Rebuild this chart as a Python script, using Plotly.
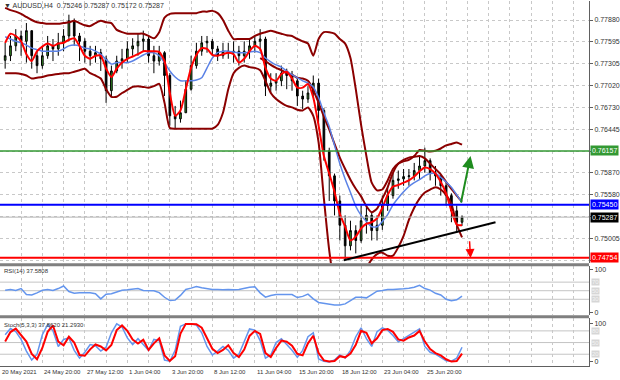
import plotly.graph_objects as go

# ---------------- data (AUDUSD H4, each candle = 2 H4 bars) ----------------
FIRST_OPEN = 0.7735
CLOSE = [0.7741, 0.7754, 0.7767, 0.7760, 0.7774, 0.7741, 0.7728, 0.7741, 0.7754, 0.7750,
         0.7758, 0.7767, 0.7787, 0.7767, 0.7760, 0.7747, 0.7741, 0.7745, 0.7737, 0.7695,
         0.7721, 0.7734, 0.7737, 0.7750, 0.7754, 0.7760, 0.7763, 0.7741, 0.7734, 0.7745,
         0.7715, 0.7662, 0.7658, 0.7666, 0.7697, 0.7728, 0.7747, 0.7758, 0.7760, 0.7750,
         0.7741, 0.7747, 0.7745, 0.7747, 0.7741, 0.7747, 0.7754, 0.7760, 0.7763, 0.7701,
         0.7705, 0.7708, 0.7718, 0.7715, 0.7708, 0.7688, 0.7684, 0.7692, 0.7705, 0.7669,
         0.7616, 0.7583, 0.7550, 0.7518, 0.7491, 0.7511, 0.7498, 0.7524, 0.7531, 0.7511,
         0.7518, 0.7544, 0.7557, 0.7577, 0.7579, 0.7582, 0.7583, 0.7590, 0.7596, 0.7603,
         0.7587, 0.7583, 0.7570, 0.7557, 0.7537, 0.7522, 0.75287]
HIGH = [0.7758, 0.7767, 0.7776, 0.7774, 0.7784, 0.7774, 0.7747, 0.7754, 0.7767, 0.7763,
        0.7771, 0.7776, 0.7795, 0.7790, 0.7771, 0.7764, 0.7754, 0.7754, 0.7750, 0.7741,
        0.7728, 0.7741, 0.7750, 0.7760, 0.7764, 0.7770, 0.7774, 0.7766, 0.7754, 0.7754,
        0.7747, 0.7718, 0.7675, 0.7682, 0.7708, 0.7741, 0.7758, 0.7767, 0.7767, 0.7763,
        0.7754, 0.7758, 0.7758, 0.7760, 0.7754, 0.7760, 0.7763, 0.7767, 0.7776, 0.7766,
        0.7718, 0.7718, 0.7728, 0.7724, 0.7721, 0.7712, 0.7695, 0.7701, 0.7715, 0.7711,
        0.7672, 0.7620, 0.7586, 0.7557, 0.7531, 0.7524, 0.7518, 0.7544, 0.7546, 0.7535,
        0.7531, 0.7557, 0.7568, 0.7587, 0.7590, 0.7592, 0.7592, 0.7600, 0.7609, 0.7620,
        0.7606, 0.7596, 0.7583, 0.7574, 0.7560, 0.7544, 0.7531]
LOW = [0.7724, 0.7734, 0.7747, 0.7741, 0.7732, 0.7724, 0.7718, 0.7724, 0.7737, 0.7734,
       0.7741, 0.7747, 0.7760, 0.7754, 0.7734, 0.7732, 0.7728, 0.7732, 0.7721, 0.7679,
       0.7688, 0.7718, 0.7724, 0.7732, 0.7741, 0.7741, 0.7747, 0.7732, 0.7718, 0.7728,
       0.7688, 0.7649, 0.7645, 0.7653, 0.7666, 0.7695, 0.7724, 0.7741, 0.7745, 0.7741,
       0.7734, 0.7737, 0.7737, 0.7732, 0.7728, 0.7732, 0.7737, 0.7745, 0.7747, 0.7688,
       0.7692, 0.7695, 0.7701, 0.7697, 0.7695, 0.7675, 0.7671, 0.7679, 0.7686, 0.7649,
       0.7603, 0.7550, 0.7531, 0.7498, 0.7473, 0.7485, 0.7481, 0.7495, 0.7507, 0.7498,
       0.7498, 0.7512, 0.7537, 0.7553, 0.7566, 0.7570, 0.7570, 0.7577, 0.7579, 0.7587,
       0.7577, 0.7570, 0.7557, 0.7544, 0.7522, 0.7508, 0.75172]

RED_MA = [0.7758, 0.7770, 0.7767, 0.7760, 0.7743, 0.7734, 0.7747, 0.7753, 0.7757, 0.7754,
          0.7757, 0.7758, 0.7762, 0.7764, 0.7754, 0.7741, 0.7737, 0.7741, 0.7741, 0.7724,
          0.7713, 0.7724, 0.7732, 0.7737, 0.7740, 0.7743, 0.7747, 0.7747, 0.7747, 0.7746,
          0.7734, 0.7692, 0.7662, 0.7669, 0.7697, 0.7725, 0.7742, 0.7751, 0.7750, 0.7742,
          0.7741, 0.7743, 0.7745, 0.7743, 0.7732, 0.7737, 0.7747, 0.7754, 0.7750, 0.7725,
          0.7711, 0.7708, 0.7717, 0.7720, 0.7711, 0.7699, 0.7699, 0.7704, 0.7686, 0.7649,
          0.7609, 0.7586, 0.7562, 0.7533, 0.7516, 0.7498, 0.7503, 0.7514, 0.7520, 0.7522,
          0.7527, 0.7541, 0.7558, 0.7569, 0.7571, 0.7574, 0.7577, 0.7582, 0.7589, 0.7594,
          0.7592, 0.7586, 0.7575, 0.7560, 0.7537, 0.7519, 0.7518]
BLUE_MA = [0.7766, 0.7763, 0.7760, 0.7758, 0.7755, 0.7751, 0.7749, 0.7747, 0.7747, 0.7747,
           0.7747, 0.7750, 0.7754, 0.7755, 0.7754, 0.7751, 0.7750, 0.7747, 0.7743, 0.7736,
           0.7730, 0.7732, 0.7732, 0.7732, 0.7734, 0.7738, 0.7742, 0.7745, 0.7745, 0.7741,
           0.7732, 0.7721, 0.7713, 0.7708, 0.7708, 0.7708, 0.7709, 0.7712, 0.7725, 0.7738,
           0.7745, 0.7747, 0.7747, 0.7746, 0.7745, 0.7745, 0.7746, 0.7747, 0.7745, 0.7738,
           0.7733, 0.7729, 0.7726, 0.7721, 0.7716, 0.7712, 0.7708, 0.7705, 0.7700, 0.7686,
           0.7666, 0.7648, 0.7623, 0.7599, 0.7579, 0.7561, 0.7543, 0.7531, 0.7523, 0.7516,
           0.7516, 0.7523, 0.7532, 0.7545, 0.7554, 0.7562, 0.7569, 0.7574, 0.7578, 0.7583,
           0.7586, 0.7586, 0.7581, 0.7575, 0.7568, 0.7558, 0.7548]
BAND_UPPER = [0.7804, 0.7801, 0.7799, 0.7796, 0.7792, 0.7788, 0.7785, 0.7784, 0.7783, 0.7783,
              0.7783, 0.7784, 0.7785, 0.7787, 0.7784, 0.7781, 0.7780, 0.7784, 0.7787, 0.7785,
              0.7784, 0.7775, 0.7772, 0.7770, 0.7770, 0.7770, 0.7770, 0.7767, 0.7764, 0.7772,
              0.7791, 0.7796, 0.7797, 0.7797, 0.7797, 0.7797, 0.7797, 0.7799, 0.7799, 0.7800,
              0.7797, 0.7788, 0.7774, 0.7763, 0.7763, 0.7763, 0.7763, 0.7767, 0.7770, 0.7772,
              0.7774, 0.7772, 0.7770, 0.7768, 0.7767, 0.7763, 0.7760, 0.7757, 0.7741, 0.7763,
              0.7772, 0.7772, 0.7770, 0.7763, 0.7757, 0.7738, 0.7697, 0.7650, 0.7609, 0.7574,
              0.7564, 0.7565, 0.7577, 0.7592, 0.7599, 0.7602, 0.7604, 0.7609, 0.7617, 0.7616,
              0.7615, 0.7616, 0.7619, 0.7623, 0.7625, 0.7627, 0.7624]
BAND_LOWER = [0.7718, 0.7718, 0.7718, 0.7717, 0.7715, 0.7711, 0.7712, 0.7713, 0.7715, 0.7716,
              0.7717, 0.7718, 0.7718, 0.7720, 0.7722, 0.7724, 0.7718, 0.7715, 0.7711, 0.7697,
              0.7687, 0.7687, 0.7692, 0.7696, 0.7700, 0.7701, 0.7700, 0.7699, 0.7701, 0.7704,
              0.7679, 0.7646, 0.7645, 0.7645, 0.7645, 0.7645, 0.7645, 0.7645, 0.7645, 0.7645,
              0.7650, 0.7666, 0.7697, 0.7718, 0.7725, 0.7728, 0.7726, 0.7725, 0.7722, 0.7708,
              0.7692, 0.7684, 0.7679, 0.7675, 0.7673, 0.7670, 0.7669, 0.7673, 0.7662, 0.7627,
              0.7553, 0.7485, 0.7439, 0.7419, 0.7406, 0.7406, 0.7419, 0.7439, 0.7461, 0.7473,
              0.7480, 0.7482, 0.7478, 0.7478, 0.7489, 0.7504, 0.7525, 0.7541, 0.7553, 0.7561,
              0.7565, 0.7568, 0.7565, 0.7558, 0.7546, 0.7519, 0.7502]
BAND_INNER = [None] * 48 + [
              0.7738, 0.7734, 0.7729, 0.7725, 0.7722, 0.7718, 0.7716, 0.7712, 0.7711, 0.7708,
              0.7696, 0.7679, 0.7661, 0.7644, 0.7625, 0.7607, 0.7592, 0.7578, 0.7566, 0.7556,
              0.7543, 0.7535, 0.7540, 0.7553, 0.7568, 0.7587, 0.7599, 0.7604, 0.7607, 0.7608,
              0.7609, 0.7606, 0.7599, 0.7592, 0.7585, 0.7575, 0.7566, 0.7557, 0.7549]

RSI = [51, 53, 50.5, 55, 41, 40, 45, 51, 53, 50.5,
       55, 61, 48, 44, 45, 45.5, 45, 43, 31, 42,
       43, 47, 51, 52, 54, 55, 50.5, 51, 50, 45.5,
       34.7, 27, 28, 39, 53, 56, 60, 57, 55, 53,
       53, 52, 53, 52, 53, 56, 58, 59, 45, 35,
       39, 41, 40.5, 40.5, 41, 34, 36.7, 42, 31, 22.7,
       21, 18, 16.7, 16.7, 19.3, 26.7, 34.7, 35, 33.3, 41,
       49, 50.5, 53, 53, 53, 54.7, 56, 58, 62.7, 55,
       51.3, 44, 40, 30, 26.7, 28.7, 37.58]
STOCH_K = [70, 86, 78, 58, 28, 5, 20, 70, 96, 80,
           40, 58, 62, 30, 10, 25, 45, 42, 28, 38,
           75, 98, 90, 62, 45, 60, 45, 30, 58, 55,
           5, 2, 30, 92, 98, 98, 95, 75, 40, 18,
           28, 40, 30, 10, 20, 55, 85, 82, 55, 10,
           18, 50, 60, 45, 30, 12, 30, 65, 75, 8,
           2, 0, 5, 18, 10, 30, 65, 88, 60, 40,
           78, 88, 82, 68, 52, 60, 68, 75, 85, 40,
           25, 20, 12, 3, 2, 10, 37.86]
STOCH_D = [53, 77, 86, 70, 52.5, 21, 7, 36, 77.5, 94,
           52.5, 43, 65, 50, 18, 16, 32.5, 45, 40, 30,
           44, 82, 94, 80, 57.5, 47.5, 57, 31, 48, 61,
           17, 3, 15, 73, 98, 98, 97, 88, 62.5, 34,
           23, 31, 43, 23, 12.5, 32, 67, 80, 72, 23,
           13, 36, 55, 52, 42, 21, 17, 48, 67.5, 23,
           4, 1, 2.5, 15, 12, 22, 44, 80, 75, 48,
           61, 82, 85, 77.5, 58, 55, 63, 68, 80, 52.5,
           33, 23, 17, 7, 1, 2.5, 21.29]

# visible price-scale labels; the three hidden ones sit under the coloured level boxes
PRICE_TICKS = [0.77880, 0.77595, 0.77305, 0.77020, 0.76730, 0.76445,
               0.76155, 0.75870, 0.75580, 0.75290, 0.75005, 0.74715]
PRICE_TICK_TEXT = ["0.77880", "0.77595", "0.77305", "0.77020", "0.76730", "0.76445",
                   "", "0.75870", "0.75580", "", "0.75005", ""]
DATE_LABELS = ["20 May 2021", "24 May 20:00", "27 May 12:00", "1 Jun 04:00",
               "3 Jun 20:00", "8 Jun 12:00", "11 Jun 04:00", "15 Jun 20:00",
               "18 Jun 12:00", "23 Jun 04:00", "25 Jun 20:00"]
DATE_BARS = [-0.9, 15, 31, 47, 63, 79, 95, 111, 127, 143, 159]

LEVEL_GREEN = 0.76157
LEVEL_BLUE = 0.75450
LEVEL_RED = 0.74754
BID = 0.75287
TREND_BARS = [128.5, 185.6]
TREND_PRICES = [0.7472, 0.7522]
UP_ARROW_BARS = [172.5, 176.2]
UP_ARROW_PRICES = [0.7546, 0.7609]
DOWN_ARROW_BARS = [175.8, 176.2]
DOWN_ARROW_PRICES = [0.7499, 0.7475]
RSI_LEVELS = [70, 50, 30]
STOCH_LEVELS = [80, 50, 20]
TITLE = "\u25bc AUDUSD,H4  0.75246 0.75287 0.75172 0.75287"
RSI_TITLE = "RSI(14) 37.5808"
STOCH_TITLE = "Stoch(5,3,3) 37.8620 21.2930"

# ---------------- build ----------------
BARS = [2 * k + 1 for k in range(len(CLOSE))]
OPEN = [FIRST_OPEN] + CLOSE[:-1]
XR = [-0.94, 220.8]
GRID = list(range(-1, 222, 8))
FONT = "Liberation Sans, Arial, sans-serif"
H = 366.0  # plot-area height in px


def py(px):
    return (H - px) / H


fig = go.Figure()
fig.add_trace(go.Candlestick(
    x=BARS, open=OPEN, high=HIGH, low=LOW, close=CLOSE, xaxis="x", yaxis="y",
    increasing=dict(line=dict(color="#000000", width=1), fillcolor="#3a9a2a"),
    decreasing=dict(line=dict(color="#000000", width=1), fillcolor="#000000"),
    showlegend=False, hoverinfo="skip"))
for series, color, width in [(BAND_UPPER, "#8b0000", 2), (BAND_LOWER, "#8b0000", 2),
                             (BAND_INNER, "#8b0000", 2), (BLUE_MA, "#5b82e6", 1.5),
                             (RED_MA, "#ff0000", 2)]:
    fig.add_trace(go.Scatter(x=BARS, y=series, mode="lines", xaxis="x", yaxis="y",
                             line=dict(color=color, width=width, shape="spline", smoothing=0.6),
                             showlegend=False, hoverinfo="skip", connectgaps=False))
fig.add_trace(go.Scatter(x=BARS, y=RSI, mode="lines", xaxis="x2", yaxis="y2",
                         line=dict(color="#6495ed", width=1.5), showlegend=False))
fig.add_trace(go.Scatter(x=BARS, y=STOCH_K, mode="lines", xaxis="x3", yaxis="y3",
                         line=dict(color="#6495ed", width=1.5), showlegend=False))
fig.add_trace(go.Scatter(x=BARS, y=STOCH_D, mode="lines", xaxis="x3", yaxis="y3",
                         line=dict(color="#ff0000", width=2), showlegend=False))

shapes = []
# panel separators
for y0, y1 in [(263, 266), (315, 318)]:
    shapes.append(dict(type="rect", xref="paper", yref="paper", x0=0, x1=1,
                       y0=py(y1), y1=py(y0), fillcolor="#808080", line=dict(width=0)))
# horizontal levels
for val, col, w in [(BID, "#b4b4b4", 1), (LEVEL_GREEN, "#339933", 1.5),
                    (LEVEL_BLUE, "#0000ff", 2), (LEVEL_RED, "#ff0000", 2)]:
    shapes.append(dict(type="line", xref="paper", yref="y", x0=0, x1=1, y0=val, y1=val,
                       line=dict(color=col, width=w)))
for lv in RSI_LEVELS:
    shapes.append(dict(type="line", xref="paper", yref="y2", x0=0, x1=1, y0=lv, y1=lv,
                       line=dict(color="#c4c4c4", width=1), layer="below"))
for lv in STOCH_LEVELS:
    shapes.append(dict(type="line", xref="paper", yref="y3", x0=0, x1=1, y0=lv, y1=lv,
                       line=dict(color="#c4c4c4", width=1), layer="below"))
# trend line
shapes.append(dict(type="line", xref="x", yref="y", x0=TREND_BARS[0], x1=TREND_BARS[1],
                   y0=TREND_PRICES[0], y1=TREND_PRICES[1], line=dict(color="#000000", width=2)))

ann = []
small = dict(family=FONT, size=7, color="#333333")
tiny = dict(family=FONT, size=6, color="#333333")
ann.append(dict(text=TITLE, xref="paper", yref="paper", x=0.004, y=py(5), xanchor="left",
                yanchor="middle", showarrow=False, font=small))
ann.append(dict(text=RSI_TITLE, xref="paper", yref="paper", x=0.004, y=py(271), xanchor="left",
                yanchor="middle", showarrow=False, font=tiny))
ann.append(dict(text=STOCH_TITLE, xref="paper", yref="paper", x=0.004, y=py(325), xanchor="left",
                yanchor="middle", showarrow=False, font=tiny))
for b, t in zip(DATE_BARS, DATE_LABELS):
    ann.append(dict(text=t, xref="x3", yref="paper", x=b, y=py(372), xanchor="left",
                    yanchor="middle", xshift=0, showarrow=False, font=tiny))
for val, col in [(LEVEL_GREEN, "#339933"), (LEVEL_BLUE, "#0000ff"), (BID, "#000000"),
                 (LEVEL_RED, "#ff0000")]:
    ann.append(dict(text=f"{val:.5f}", xref="paper", yref="y", x=1, y=val, xanchor="left",
                    xshift=1, showarrow=False, bgcolor=col, borderpad=1,
                    font=dict(family=FONT, size=7, color="#ffffff")))
for lv in RSI_LEVELS:
    ann.append(dict(text=str(lv), xref="paper", yref="y2", x=1, y=lv, xanchor="left", xshift=2,
                    showarrow=False, bgcolor="#d6d6d6", borderpad=0,
                    font=dict(family=FONT, size=6, color="#f4f4f4")))
for lv in STOCH_LEVELS:
    ann.append(dict(text=str(lv), xref="paper", yref="y3", x=1, y=lv, xanchor="left", xshift=2,
                    showarrow=False, bgcolor="#d6d6d6", borderpad=0,
                    font=dict(family=FONT, size=6, color="#f4f4f4")))
# arrows
ann.append(dict(text="", xref="x", yref="y", axref="x", ayref="y",
                x=UP_ARROW_BARS[1], y=UP_ARROW_PRICES[1], ax=UP_ARROW_BARS[0], ay=UP_ARROW_PRICES[0],
                showarrow=True, arrowhead=2, arrowsize=1.2, arrowwidth=2, arrowcolor="#1e8c1e"))
ann.append(dict(text="", xref="x", yref="y", axref="x", ayref="y",
                x=DOWN_ARROW_BARS[1], y=DOWN_ARROW_PRICES[1], ax=DOWN_ARROW_BARS[0], ay=DOWN_ARROW_PRICES[0],
                showarrow=True, arrowhead=2, arrowsize=1.2, arrowwidth=1.5, arrowcolor="#ff0000"))

xcommon = dict(range=XR, showticklabels=False, tickmode="array", tickvals=GRID, showgrid=True,
               gridcolor="#c8c8c8", griddash="dot", gridwidth=1, zeroline=False, ticks="")
ycommon = dict(side="right", tickfont=small, ticks="outside", ticklen=3, tickcolor="#606060",
               showline=True, linecolor="#606060", linewidth=1, zeroline=False)

fig.update_layout(
    width=620, height=380, margin=dict(l=0, r=28, t=0, b=14),
    paper_bgcolor="#ffffff", plot_bgcolor="#ffffff", showlegend=False,
    boxgap=0.55, font=dict(family=FONT, size=7, color="#333333"),
    xaxis=dict(anchor="y", rangeslider=dict(visible=False), **xcommon),
    xaxis2=dict(anchor="y2", matches="x", **xcommon),
    xaxis3=dict(anchor="y3", matches="x", showline=True, linecolor="#606060", **xcommon),
    yaxis=dict(domain=[py(263), 1], range=[0.7468, 0.7813], tickmode="array",
               tickvals=PRICE_TICKS, ticktext=PRICE_TICK_TEXT,
               showgrid=True, gridcolor="#c8c8c8", griddash="dot", **ycommon),
    yaxis2=dict(domain=[py(315), py(266)], range=[-7, 107], tickmode="array",
                tickvals=[0, 100], ticktext=["0", "100"], showgrid=False, **ycommon),
    yaxis3=dict(domain=[0, py(318)], range=[-10.3, 112.8], tickmode="array",
                tickvals=[0, 100], ticktext=["0", "100"], showgrid=False, **ycommon),
    shapes=shapes, annotations=ann,
)

fig.write_html("out.html")
